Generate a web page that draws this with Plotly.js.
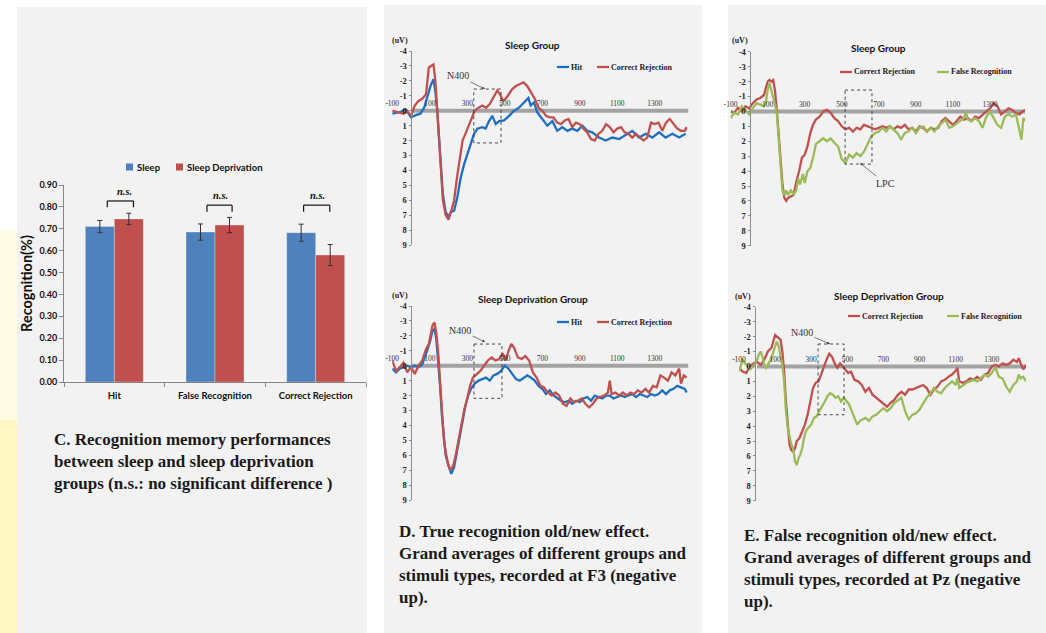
<!DOCTYPE html>
<html><head><meta charset="utf-8">
<script src="https://cdn.plot.ly/plotly-3.0.1.min.js"></script>
<style>html,body{margin:0;padding:0;background:#fff;overflow:hidden}#chart{width:1046px;height:633px}</style>
</head><body><div id="chart"></div>
<script>
// ================= DATA =================
// Panel C – bar chart
const barCategories = ['Hit', 'False Recognition', 'Correct Rejection'];
const barSeriesNames = ['Sleep', 'Sleep Deprivation'];
const sleepValues = [0.710, 0.685, 0.682];
const sleepErrors = [0.028, 0.037, 0.039];
const deprivValues = [0.745, 0.717, 0.580];
const deprivErrors = [0.026, 0.035, 0.048];
const barTickVals = [0, 0.1, 0.2, 0.3, 0.4, 0.5, 0.6, 0.7, 0.8, 0.9];
const nsText = 'n.s.';

// ERP axes ticks
const eegYTickVals = [-4, -3, -2, -1, 0, 1, 2, 3, 4, 5, 6, 7, 8, 9];
const eegYTickText = ['-4', '-3', '-2', '-1', '0', '1', '2', '3', '4', '5', '6', '7', '8', '9'];
const eegXTickVals = [-100, 100, 300, 500, 700, 900, 1100, 1300];
const eegXTickText = ['-100', '100', '300', '500', '700', '900', '1100', '1300'];

// Panel D – Sleep Group (F3): [ms, uV]
const dSleepHit = [[-100,0.2],[-60,0.1],[-30,-0.1],[0,0.45],[25,0.3],[50,0.2],[70,-0.2],[87,-1.0],[105,-1.7],[120,-2.1],[130,-1.3],[140,0],[150,2],[158,4],[170,5.6],[185,6.8],[200,7.1],[212,6.8],[230,6.7],[247,5.8],[265,4.5],[283,3.6],[300,2.9],[318,2.2],[336,1.56],[354,1.2],[380,1.1],[398,1.2],[416,0.7],[434,0.35],[452,0.9],[470,0.7],[496,0.65],[523,0.35],[550,0],[576,-0.2],[603,-0.55],[626,-0.85],[638,-0.35],[656,-0.55],[673,0.1],[700,0.55],[727,1.0],[754,0.7],[780,1.35],[807,1.1],[834,1.35],[860,1.2],[887,1.35],[914,1.0],[940,1.35],[967,1.45],[1003,1.8],[1038,2.0],[1074,1.8],[1110,1.9],[1145,1.65],[1180,1.35],[1216,1.8],[1252,1.55],[1287,1.8],[1323,1.45],[1358,1.8],[1394,1.55],[1430,1.8],[1465,1.55]];
const dSleepCR = [[-100,0],[-70,0.1],[-40,0.2],[-20,0],[0,0.35],[20,-0.35],[40,-0.65],[60,-0.8],[80,-1.1],[95,-2.9],[110,-3.0],[120,-3.1],[130,-2.0],[140,0],[150,2.0],[160,4.2],[170,6.0],[185,7.0],[200,7.3],[215,6.7],[230,6.0],[245,4.5],[260,3.35],[275,2.0],[290,1.55],[305,1.1],[320,0.55],[340,0],[360,-0.2],[380,-0.35],[400,-0.2],[420,-0.45],[440,-0.9],[460,-1.35],[475,-1.1],[490,-0.65],[505,-0.8],[520,-1.1],[540,-1.45],[560,-1.65],[580,-1.8],[600,-1.9],[620,-1.65],[640,-1.2],[660,-0.8],[680,-0.2],[700,0],[720,0.35],[740,0.45],[760,0.45],[780,0.8],[800,0.9],[820,0.65],[840,0.55],[860,1.1],[880,0.8],[900,0.9],[920,1.2],[940,1.45],[960,1.9],[980,2.0],[1000,1.55],[1020,1.35],[1040,0.9],[1060,1.1],[1080,1.45],[1100,1.2],[1120,1.1],[1140,1.45],[1160,1.55],[1180,1.8],[1200,1.55],[1220,1.8],[1240,2.0],[1260,1.8],[1280,0.8],[1300,0.9],[1320,0.8],[1340,1.35],[1360,0.8],[1380,0.55],[1400,0.9],[1420,1.2],[1440,1.35],[1460,1.35],[1470,1.1]];
// Panel D – Sleep Deprivation Group (F3)
const dDeprivHit = [[-100,0.2],[-80,0.45],[-60,0.2],[-40,0.1],[-20,0],[0,0.1],[20,0],[40,0.1],[60,-0.1],[80,-0.8],[100,-1.55],[115,-2.35],[125,-2.45],[135,-1.8],[145,-0.45],[155,1.35],[165,3.35],[175,4.9],[185,6.0],[200,6.7],[215,7.25],[230,6.8],[245,5.8],[260,4.8],[275,3.6],[290,2.7],[305,2.0],[320,1.55],[340,1.2],[360,1.0],[380,0.9],[400,0.8],[420,1.0],[440,0.65],[460,0.55],[480,0.35],[500,0],[520,0.2],[540,0.55],[560,0.9],[580,1.0],[600,0.8],[620,0.65],[640,0.8],[660,1.0],[680,1.35],[700,1.55],[720,1.9],[740,1.65],[760,2.0],[780,2.2],[800,2.35],[820,2.45],[840,2.35],[860,2.55],[880,2.35],[900,2.45],[920,2.2],[940,2.1],[960,2.35],[980,2.0],[1000,2.1],[1020,2.2],[1040,2.0],[1060,2.0],[1080,2.2],[1100,2.1],[1120,2.0],[1140,2.1],[1160,2.0],[1180,1.9],[1200,2.1],[1220,1.9],[1240,2.0],[1260,2.1],[1280,1.9],[1300,2.0],[1320,1.9],[1340,1.65],[1360,1.9],[1380,1.65],[1400,1.55],[1420,1.35],[1440,1.45],[1460,1.55],[1470,1.8]];
const dDeprivCR = [[-100,-0.35],[-80,0.35],[-60,0.1],[-40,-0.2],[-20,0.45],[0,0.1],[20,0.55],[40,0],[60,-0.35],[80,-1.1],[95,-1.45],[105,-2.2],[115,-2.7],[125,-2.9],[135,-2.2],[145,-0.9],[155,1.1],[165,3.1],[175,4.9],[185,5.8],[200,6.7],[210,7.0],[225,6.7],[240,5.9],[255,4.9],[270,3.8],[285,2.9],[300,2.2],[315,1.35],[330,0.8],[350,0.55],[370,0.35],[390,0],[410,-0.35],[430,-0.55],[450,-0.35],[470,-0.45],[490,-0.8],[505,-0.35],[520,-1.0],[535,-1.45],[550,-1.2],[570,-0.55],[590,-0.45],[610,-0.65],[630,-0.35],[650,0.45],[670,0.8],[690,1.35],[710,1.45],[730,1.8],[750,2.0],[770,1.8],[790,2.0],[810,2.55],[830,2.7],[850,2.2],[870,2.45],[890,2.35],[910,2.2],[930,2.55],[950,2.8],[970,2.55],[990,2.2],[1010,2.1],[1030,2.0],[1050,1.8],[1060,1.0],[1070,1.9],[1090,1.8],[1110,2.0],[1130,1.8],[1150,2.0],[1170,1.8],[1190,1.9],[1210,1.65],[1230,1.8],[1250,1.55],[1270,1.8],[1290,1.35],[1310,1.45],[1330,0.65],[1350,0.8],[1370,1.0],[1390,0.45],[1410,0.65],[1430,0.2],[1440,1.2],[1455,0.65],[1470,0.8]];
// Panel E – Sleep Group (Pz)
const eSleepCR = [[-100,0],[-80,0.1],[-60,-0.25],[-40,0],[-20,-0.35],[0,-0.2],[20,-0.55],[40,-0.8],[60,-0.9],[80,-1.1],[90,-1.55],[100,-2.0],[110,-2.1],[120,-2.0],[130,-2.1],[140,-1.35],[150,0],[160,1.8],[170,3.55],[180,4.9],[190,5.8],[200,6.0],[210,5.8],[225,5.7],[240,5.6],[255,4.7],[270,4.0],[285,3.1],[300,2.9],[315,2.35],[330,1.45],[345,0.9],[360,0.55],[380,0.35],[400,0],[420,-0.1],[440,0.1],[460,0.45],[480,0.65],[500,1.0],[520,1.2],[540,1.1],[560,1.35],[580,1.1],[600,1.2],[620,0.9],[640,1.0],[660,1.1],[680,1.2],[700,1.1],[720,1.0],[740,1.1],[760,1.0],[780,1.2],[800,1.0],[820,1.1],[840,0.9],[860,1.2],[880,1.1],[900,1.35],[920,1.0],[940,1.1],[960,1.35],[980,1.1],[1000,1.2],[1020,1.1],[1040,0.65],[1060,0.45],[1080,0.65],[1100,0.9],[1120,0.65],[1140,0.35],[1160,0.55],[1180,0.45],[1200,0.65],[1220,0.35],[1240,0.45],[1260,0.2],[1280,0],[1300,-0.2],[1320,-0.55],[1340,-0.35],[1360,0.2],[1380,0],[1400,-0.2],[1420,-0.1],[1440,0.1],[1460,0.2],[1475,0],[1490,-0.1]];
const eSleepFR = [[-100,0.45],[-80,0.1],[-60,0.2],[-40,-0.35],[-20,-0.1],[0,0.2],[20,-0.2],[40,-0.55],[60,-0.45],[80,-0.35],[90,-0.55],[100,-1.45],[110,-1.9],[120,-1.45],[130,-0.9],[140,-0.45],[150,0.2],[160,2.0],[170,4.2],[180,5.3],[190,5.6],[200,5.3],[210,5.6],[225,5.3],[240,5.6],[255,5.25],[265,4.5],[275,4.9],[290,4.2],[300,4.8],[315,4.0],[330,3.8],[345,3.1],[360,2.2],[380,2.0],[400,1.8],[420,2.0],[440,1.8],[460,2.1],[480,2.35],[500,3.2],[520,3.45],[540,2.9],[560,3.1],[580,2.8],[600,3.0],[620,2.7],[640,2.2],[660,1.65],[680,1.45],[700,1.35],[720,1.1],[740,1.35],[760,1.0],[780,1.2],[800,1.45],[820,1.9],[840,1.45],[860,1.35],[880,1.1],[900,1.45],[920,1.1],[940,1.0],[960,1.35],[980,1.1],[1000,1.35],[1020,1.0],[1040,0.8],[1060,0.55],[1080,1.1],[1100,1.0],[1120,0.8],[1140,0.65],[1160,0.45],[1170,0],[1180,0.55],[1200,0.65],[1220,0.45],[1240,0.65],[1260,1.1],[1280,0.35],[1300,0],[1320,0.45],[1340,0.9],[1360,1.1],[1380,0.35],[1400,0.2],[1420,0.35],[1440,0.2],[1460,1.35],[1470,1.9],[1480,0.45],[1490,0.65]];
// Panel E – Sleep Deprivation Group (Pz)
const eDeprivCR = [[-100,0.1],[-80,0.35],[-60,0.45],[-40,0],[-20,-0.2],[0,-0.3],[20,-0.1],[40,-0.45],[60,-1.0],[80,-1.25],[100,-2.1],[110,-2.0],[120,-1.9],[130,-1.8],[140,-1.0],[150,0.35],[160,2.35],[170,3.9],[180,5.25],[190,5.6],[200,5.7],[210,5.5],[220,5.0],[235,4.8],[250,4.35],[265,3.9],[280,3.25],[295,2.35],[310,1.45],[325,1.1],[340,1.0],[355,0.55],[370,0],[385,-0.45],[400,-0.85],[415,-0.65],[430,-0.2],[445,0.1],[460,-0.2],[475,0],[490,0.2],[505,0.45],[520,0.35],[540,0.9],[560,1.0],[580,1.25],[600,1.7],[620,1.45],[640,1.9],[660,2.1],[680,2.35],[700,2.55],[720,2.7],[740,2.45],[760,2.25],[780,1.9],[800,1.7],[820,1.9],[840,1.55],[860,1.55],[880,1.45],[900,1.35],[920,1.25],[940,1.45],[960,1.9],[980,1.55],[1000,1.35],[1020,1.0],[1040,0.9],[1060,0.7],[1080,0.55],[1100,0.3],[1110,0.1],[1120,1.0],[1140,1.1],[1160,1.0],[1180,0.8],[1200,0.9],[1220,0.7],[1240,0.9],[1260,0.55],[1280,0.45],[1300,0],[1320,-0.1],[1340,0],[1360,-0.2],[1380,-0.1],[1400,-0.2],[1420,-0.45],[1440,-0.3],[1450,-0.55],[1460,-0.2],[1475,0.2],[1490,-0.1]];
const eDeprivFR = [[-100,0.35],[-80,-0.45],[-60,-0.1],[-40,0.2],[-20,0],[0,-0.45],[10,-0.8],[20,-1.0],[30,-0.65],[40,-0.1],[50,0.1],[60,-0.1],[80,-0.55],[100,-1.35],[110,-1.65],[120,-1.35],[130,-0.8],[140,-0.1],[150,1.0],[160,3.0],[170,4.1],[180,4.8],[190,5.25],[200,5.5],[210,6.35],[220,6.6],[230,6.15],[240,5.9],[250,5.5],[260,4.8],[270,4.35],[285,4.1],[300,3.9],[315,3.45],[330,3.35],[345,3.0],[360,2.7],[375,2.35],[390,2.0],[405,1.8],[420,1.9],[435,2.1],[450,2.0],[465,2.35],[480,2.1],[495,2.35],[510,2.55],[525,3.0],[540,3.45],[555,3.9],[570,3.65],[585,3.55],[600,3.45],[620,3.65],[640,3.35],[660,3.25],[680,3.0],[700,2.8],[720,3.0],[740,2.8],[760,2.45],[780,2.25],[800,2.1],[820,3.0],[840,3.55],[860,3.25],[880,3.15],[900,2.9],[920,2.45],[940,2.1],[960,1.8],[980,1.45],[1000,1.7],[1020,1.8],[1040,1.45],[1060,1.25],[1080,1.0],[1100,1.25],[1110,0.8],[1120,1.45],[1140,1.25],[1160,1.1],[1180,1.0],[1200,0.9],[1220,1.0],[1240,0.8],[1260,0.55],[1280,0.7],[1300,0.45],[1320,0.05],[1340,0.7],[1360,0.8],[1380,1.35],[1400,1.7],[1420,1.25],[1440,1.0],[1450,0.55],[1460,0.8],[1475,0.7],[1490,1.0]];

const panelTitles = ['Sleep Group', 'Sleep Deprivation Group'];
const seriesNames = {hit: 'Hit', cr: 'Correct Rejection', fr: 'False Recognition'};
const captionC = 'C. Recognition memory performances<br>between sleep and sleep deprivation<br>groups (n.s.: no significant difference )';
const captionD = 'D. True recognition old/new effect.<br>Grand averages of different groups and<br>stimuli types, recorded at F3 (negative<br>up).';
const captionE = 'E. False recognition old/new effect.<br>Grand averages of different groups and<br>stimuli types, recorded at Pz (negative<br>up).';

// ================= STYLE / GEOMETRY =================
const W = 1046, H = 633;
const px = v => v / W;
const py = v => 1 - v / H;
const BLUE_BAR = '#4f81bd', RED_BAR = '#c0504d';
const BLUE = '#1f6fc0', RED = '#c0504d', GREEN = '#9bbb59';
const SERIF = 'Liberation Serif, Times New Roman, serif';
const SANS = 'Lato, Open Sans, sans-serif';

const traces = [];
const shapes = [];
const annotations = [];
const note = o => annotations.push(Object.assign({xref:'paper', yref:'paper', xanchor:'center', yanchor:'middle', showarrow:false}, o));

// panel backgrounds
[[17,367,7,633],[384,702,5,633],[728,1046,5,633]].forEach(p => shapes.push({
  type:'rect', xref:'paper', yref:'paper', x0:px(p[0]), x1:px(p[1]), y0:py(p[3]), y1:py(p[2]),
  fillcolor:'#f2f2f2', line:{width:0}, layer:'below'}));
// yellow glow on left edge
shapes.push({type:'rect', xref:'paper', yref:'paper', x0:0, x1:px(17), y0:py(420), y1:py(230), fillcolor:'#fffce6', line:{width:0}, layer:'below'});
shapes.push({type:'rect', xref:'paper', yref:'paper', x0:0, x1:px(17), y0:0, y1:py(420), fillcolor:'#fff8c4', line:{width:0}, layer:'below'});

// ---------- Panel C ----------
traces.push({type:'bar', x:barCategories, y:sleepValues, name:barSeriesNames[0], xaxis:'x', yaxis:'y',
  marker:{color:BLUE_BAR, line:{color:'rgba(255,255,255,0.5)', width:0.6}},
  error_y:{type:'data', array:sleepErrors, visible:true, color:'#333', thickness:1, width:2.5}, showlegend:false, hoverinfo:'skip'});
traces.push({type:'bar', x:barCategories, y:deprivValues, name:barSeriesNames[1], xaxis:'x', yaxis:'y',
  marker:{color:RED_BAR, line:{color:'rgba(255,255,255,0.5)', width:0.6}},
  error_y:{type:'data', array:deprivErrors, visible:true, color:'#333', thickness:1, width:2.5}, showlegend:false, hoverinfo:'skip'});

// legend (bar)
const barLegend = [{x:126, w:7, color:BLUE_BAR, name:barSeriesNames[0]}, {x:176, w:7, color:RED_BAR, name:barSeriesNames[1]}];
barLegend.forEach(l => {
  shapes.push({type:'rect', xref:'paper', yref:'paper', x0:px(l.x), x1:px(l.x+l.w), y0:py(170.5), y1:py(163.5), fillcolor:l.color, line:{width:0}});
  note({x:px(l.x+l.w+1.5), y:py(167), xanchor:'left', text:l.name, font:{family:SANS, size:9.5, weight:700, color:'#111'}});
});

// n.s. brackets
const brackets = [
  {c:0, x0:-0.07, x1:0.19, top:0.827, bot:0.798, tx:0.10, ty:0.869},
  {c:1, x0:-0.08, x1:0.17, top:0.808, bot:0.778, tx:0.05, ty:0.854},
  {c:2, x0:-0.12, x1:0.14, top:0.808, bot:0.778, tx:0.02, ty:0.854}];
brackets.forEach(b => {
  const L = b.c + b.x0, R = b.c + b.x1, ln = {color:'#111', width:1.2};
  shapes.push({type:'line', xref:'x', yref:'y', x0:L, x1:R, y0:b.top, y1:b.top, line:ln});
  shapes.push({type:'line', xref:'x', yref:'y', x0:L, x1:L, y0:b.top, y1:b.bot, line:ln});
  shapes.push({type:'line', xref:'x', yref:'y', x0:R, x1:R, y0:b.top, y1:b.bot, line:ln});
  annotations.push({xref:'x', yref:'y', x:b.c + b.tx, y:b.ty, xanchor:'center', yanchor:'middle', showarrow:false, text:nsText,
    font:{family:SERIF, size:10.5, style:'italic', weight:700, color:'#111'}});
});

const layout = {
  width:W, height:H, margin:{l:0, r:0, t:0, b:0},
  paper_bgcolor:'#ffffff', plot_bgcolor:'rgba(0,0,0,0)',
  showlegend:false, bargap:0.424, bargroupgap:0, barmode:'group',
  xaxis:{domain:[px(64), px(366)], anchor:'y', type:'category', range:[-0.5, 2.5],
    showline:true, linecolor:'#868686', linewidth:1, ticks:'outside', tickson:'boundaries', ticklen:4, tickcolor:'#868686',
    ticklabelstandoff:5, tickfont:{family:SANS, size:9.5, weight:700, color:'#111'}, showgrid:false, zeroline:false, fixedrange:true},
  yaxis:{domain:[py(382), py(185)], anchor:'x', range:[0, 0.9], tickmode:'array', tickvals:barTickVals, tickformat:'.2f',
    showline:true, linecolor:'#868686', linewidth:1, ticks:'outside', ticklen:4, tickcolor:'#868686',
    tickfont:{family:SANS, size:9, weight:700, color:'#111'}, showgrid:false, zeroline:false,
    title:{text:'Recognition(%)', font:{family:SANS, size:14.5, weight:700, color:'#111'}, standoff:3}},
  shapes:shapes, annotations:annotations
};

// ---------- ERP panels ----------
const eegPanels = [
  {n:2, xl:392.25, xr:688.5, xr0:[-100,1480], yTop:51, yBot:245, axisX:411, title:panelTitles[0], tX:532, tY:45, uvX:400, uvY:40,
   legY:67, legend:[{x:557, color:BLUE, name:seriesNames.hit},{x:597, color:RED, name:seriesNames.cr}],
   series:[{d:dSleepHit, color:BLUE},{d:dSleepCR, color:RED}], box:[335,480,-1.45,2.16],
   label:{text:'N400', tx:458, ty:76, hx:485, hy:89}},
  {n:3, xl:392.25, xr:688.5, xr0:[-100,1480], yTop:306, yBot:500, axisX:411, title:panelTitles[1], tX:533, tY:299, uvX:400, uvY:295,
   legY:322, legend:[{x:557, color:BLUE, name:seriesNames.hit},{x:597, color:RED, name:seriesNames.cr}],
   series:[{d:dDeprivHit, color:BLUE},{d:dDeprivCR, color:RED}], box:[336,485,-1.45,2.19],
   label:{text:'N400', tx:460, ty:330, hx:485, hy:342}},
  {n:4, xl:730.6, xr:1025.2, xr0:[-100,1490], yTop:51.7, yBot:245.7, axisX:750, title:panelTitles[0], tX:878, tY:48, uvX:740, uvY:41,
   legY:72, legend:[{x:840, color:RED, name:seriesNames.cr},{x:937, color:GREEN, name:seriesNames.fr}],
   series:[{d:eSleepCR, color:RED},{d:eSleepFR, color:GREEN}], box:[518,663,-1.43,3.53],
   label:{text:'LPC', tx:885, ty:183, hx:860, hy:163}},
  {n:5, xl:739, xr:1026, xr0:[-100,1490], yTop:306.7, yBot:500.7, axisX:755, title:panelTitles[1], tX:889, tY:296, uvX:743, uvY:296,
   legY:316, legend:[{x:848, color:RED, name:seriesNames.cr},{x:947, color:GREEN, name:seriesNames.fr}],
   series:[{d:eDeprivCR, color:RED},{d:eDeprivFR, color:GREEN}], box:[338,482,-1.5,3.24],
   label:{text:'N400', tx:802, ty:332, hx:830, hy:344}}
];

eegPanels.forEach(p => {
  const xa = 'x' + p.n, ya = 'y' + p.n;
  const zeroY = p.yTop + 4 * (p.yBot - p.yTop) / 13;
  layout['xaxis' + p.n] = {domain:[px(p.xl), px(p.xr)], range:p.xr0, anchor:'free', position:py(zeroY), side:'top',
    showline:false, showgrid:false, zeroline:false, ticks:'', tickmode:'array', tickvals:eegXTickVals, ticktext:eegXTickText,
    ticklabelstandoff:3, tickfont:{family:SERIF, size:7.5, color:'#333'}, fixedrange:true};
  layout['yaxis' + p.n] = {domain:[py(p.yBot), py(p.yTop)], range:[9, -4], anchor:'free', position:px(p.axisX),
    showline:true, linecolor:'#8c8c8c', linewidth:1, ticks:'outside', ticklen:2.5, tickcolor:'#8c8c8c',
    tickmode:'array', tickvals:eegYTickVals, ticktext:eegYTickText,
    tickfont:{family:SERIF, size:8.5, weight:700, color:'#222'}, showgrid:false, zeroline:false, fixedrange:true};
  // zero baseline
  shapes.push({type:'line', xref:xa, yref:ya, x0:0, x1:p.xr0[1], y0:0, y1:0, line:{color:'#a3a3a3', width:4}, layer:'below'});
  // traces
  p.series.forEach(s => traces.push({type:'scatter', mode:'lines', x:s.d.map(d => d[0]), y:s.d.map(d => d[1]),
    xaxis:xa, yaxis:ya, line:{color:s.color, width:2.3}, showlegend:false, hoverinfo:'skip'}));
  // dashed window
  shapes.push({type:'rect', xref:xa, yref:ya, x0:p.box[0], x1:p.box[1], y0:p.box[2], y1:p.box[3],
    line:{color:'#333', width:0.9, dash:'dot'}});
  // title
  note({x:px(p.tX), y:py(p.tY), text:p.title, font:{family:SANS, size:10, weight:700, color:'#111'}});
  // (uV)
  note({x:px(p.uvX), y:py(p.uvY), text:'(uV)', font:{family:SERIF, size:8, weight:700, color:'#222'}});
  // legend
  p.legend.forEach(l => {
    shapes.push({type:'line', xref:'paper', yref:'paper', x0:px(l.x), x1:px(l.x + 12), y0:py(p.legY), y1:py(p.legY),
      line:{color:l.color, width:2.3}});
    note({x:px(l.x + 12), y:py(p.legY), xanchor:'left', text:l.name, font:{family:SERIF, size:8, weight:700, color:'#222'}});
  });
  // component label with arrow
  annotations.push({xref:'paper', yref:'paper', x:px(p.label.hx), y:py(p.label.hy), text:p.label.text,
    showarrow:true, ax:p.label.tx - p.label.hx, ay:p.label.ty - p.label.hy, arrowhead:2, arrowsize:0.8, arrowwidth:0.7,
    arrowcolor:'#444', standoff:0, font:{family:SERIF, size:10, color:'#333'}});
});

// captions
[[captionC, 52, 461.5], [captionD, 397, 564.5], [captionE, 742, 568.5]].forEach(c => note({
  x:px(c[1]), y:py(c[2]), xanchor:'left', align:'left', text:c[0], font:{family:SERIF, size:17, weight:700, color:'#1a1a1a'}}));

Plotly.newPlot('chart', traces, layout, {staticPlot:true, displayModeBar:false});
</script></body></html>
